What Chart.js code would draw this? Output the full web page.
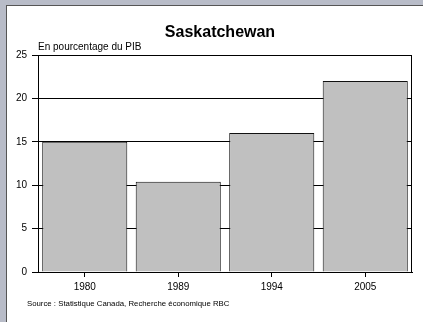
<!DOCTYPE html>
<html>
<head>
<meta charset="utf-8">
<script src="https://cdn.jsdelivr.net/npm/chart.js@4"></script>
<style>
    html, body { margin: 0; padding: 0; }
    body { width: 423px; height: 322px; background: #b8bcc8; position: relative; overflow: hidden; }
    #panel { position: absolute; left: 6px; top: 5px; width: 417px; height: 317px; background: #fff;
             border-top: 1px solid #555; border-left: 1px solid #555; box-sizing: border-box; }
    #chart { position: absolute; left: 0; top: 0; }
</style>
</head>
<body>
<div id="panel"></div>
<canvas id="chart" width="423" height="322"></canvas>
<script>
// Données du graphique
const annees = ['1980', '1989', '1994', '2005'];
const valeurs = [15, 10.4, 16, 22];
const graduationsY = [0, 5, 10, 15, 20, 25];

const titre = 'Saskatchewan';
const sousTitre = 'En pourcentage du PIB';
const source = 'Source : Statistique Canada, Recherche économique RBC';

const police = "'Liberation Sans', Arial, sans-serif";

// Textes et cadre dessinés autour de la zone du graphique
const textesPlugin = {
    id: 'textes',
    afterDatasetsDraw(chart) {
        const { ctx, chartArea } = chart;
        ctx.save();
        // cadre de la zone de tracé
        ctx.strokeStyle = '#000';
        ctx.lineWidth = 1;
        ctx.strokeRect(chartArea.left + 0.5, chartArea.top + 0.5,
            chartArea.right - chartArea.left - 1, chartArea.bottom - chartArea.top);
        ctx.fillStyle = '#000';
        ctx.textBaseline = 'middle';
        ctx.font = `bold 16px ${police}`;
        ctx.textAlign = 'center';
        ctx.fillText(titre, 220, 33);
        ctx.font = `10px ${police}`;
        ctx.textAlign = 'left';
        ctx.fillText(sousTitre, chartArea.left, 47);
        ctx.font = `7.8px ${police}`;
        ctx.fillText(source, 27, 304);
        ctx.restore();
    }
};

new Chart(document.getElementById('chart').getContext('2d'), {
    type: 'bar',
    data: {
        labels: annees,
        datasets: [{
            data: valeurs,
            backgroundColor: '#c0c0c0',
            borderColor: '#111',
            borderWidth: 1,
            barPercentage: 0.91,
            categoryPercentage: 1
        }]
    },
    options: {
        responsive: false,
        animation: false,
        events: [],
        layout: { padding: { top: 55, left: 0, right: 11, bottom: 0 } },
        scales: {
            y: {
                min: 0,
                max: 25,
                afterFit: s => { s.width = 38; },
                afterBuildTicks: s => { s.ticks = graduationsY.map(v => ({ value: v })); },
                ticks: { color: '#000', font: { family: police, size: 10 }, padding: 5 },
                grid: { color: '#000', tickLength: 6, lineWidth: 1 },
                border: { color: '#000' }
            },
            x: {
                afterFit: s => { s.height = 50; },
                ticks: { color: '#000', font: { family: police, size: 10 }, padding: 4 },
                grid: { drawOnChartArea: false, offset: false, color: '#000', tickLength: 5 },
                border: { color: '#000' }
            }
        },
        plugins: {
            legend: { display: false },
            title: { display: false },
            tooltip: { enabled: false }
        }
    },
    plugins: [textesPlugin]
});
</script>
</body>
</html>
